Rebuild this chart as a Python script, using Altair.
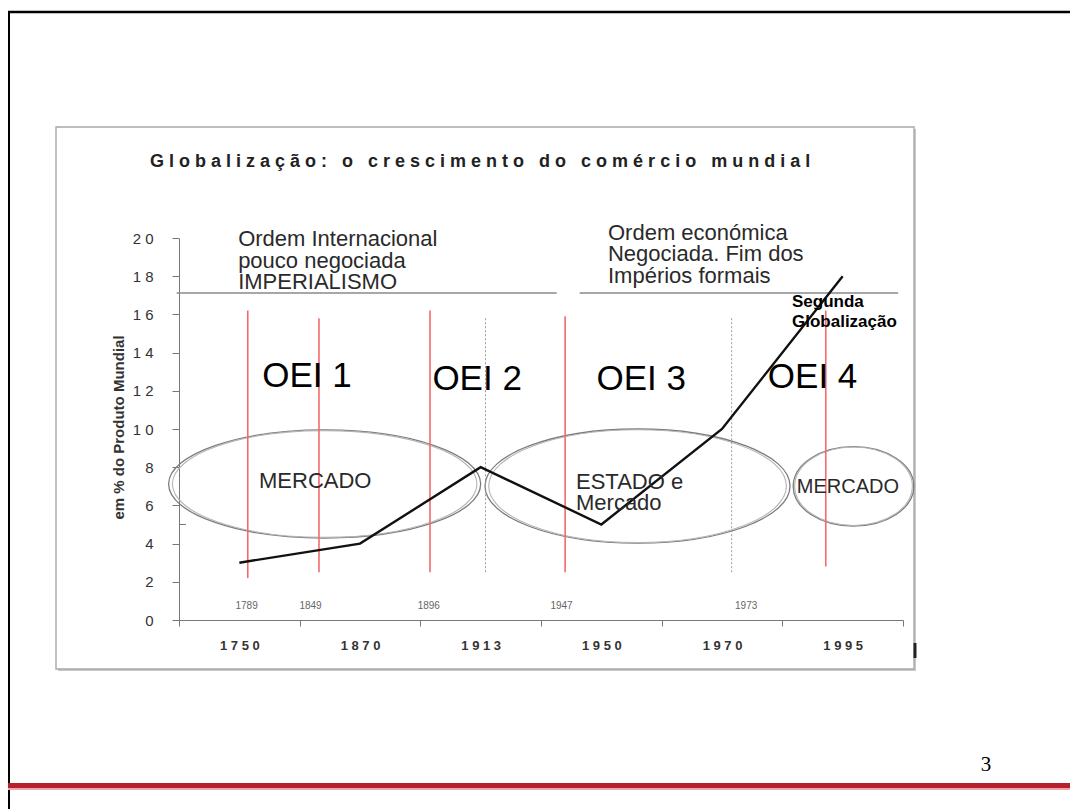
import altair as alt
import pandas as pd

# ---------------- layout constants ----------------
W, H = 724, 382            # plot area
OX, OY = 179, 238          # plot origin on the page (pixels)
PAGE_W, PAGE_H = 1070, 809
FONT = "Liberation Sans"

# ---------------- data ----------------
years = ["1750", "1870", "1913", "1950", "1970", "1995"]
trade_share = [3, 4, 8, 5, 10, 18]

# annotation positions on the axis-slot scale (0..6 = the six year slots)
red_pos = [0.57, 1.16, 2.08, 3.20, 5.36]
red_top = [16.2, 15.8, 16.2, 15.9, 16.2]
red_bottom = [2.2, 2.5, 2.5, 2.5, 2.8]
gray_pos = [2.54, 4.58]
gray_top = [15.9, 15.9]
gray_bottom = [2.5, 2.5]

small_years = ["1789", "1849", "1896", "1947", "1973"]
small_year_pos = [0.56, 1.09, 2.07, 3.17, 4.70]
small_year_val = [0.73, 0.73, 0.73, 0.73, 0.73]

oei_labels = ["OEI 1", "OEI 2", "OEI 3", "OEI 4"]
oei_pos = [0.69, 2.10, 3.46, 4.88]
oei_val = [12.8, 12.6, 12.6, 12.7]

order_texts = ["Ordem Internacional\npouco negociada\nIMPERIALISMO",
               "Ordem económica\nNegociada. Fim dos\nImpérios formais"]
order_pos = [0.49, 3.555]
order_val = [19.58, 19.9]

sep_start = [-0.02, 3.32]
sep_end = [3.13, 5.96]
sep_val = [17.12, 17.12]

regime_texts = ["MERCADO", "ESTADO e\nMercado"]
regime_pos = [0.663, 3.29]
regime_val = [6.91, 6.86]
regime2_texts = ["MERCADO"]
regime2_pos = [5.12]
regime2_val = [6.65]

seg_text = ["Segunda\nGlobalização"]
seg_pos = [5.08]
seg_val = [16.4]

ellipse_cx = [1.207, 3.80, 5.59]
ellipse_cy = [7.12, 7.01, 7.00]
ellipse_hx = [1.293, 1.264, 0.50]
ellipse_hy = [2.83, 2.99, 2.08]

title_words = ["Globalização:", "o", "crescimento", "do", "comércio", "mundial"]
y_title = "em % do Produto Mundial"
y_ticks = list(range(0, 21, 2))
page_number = ["3"]

# ---------------- scales ----------------
xq = alt.Scale(domain=[0, 6], nice=False, zero=False)
yq = alt.Scale(domain=[0, 20], nice=False)

dummy = pd.DataFrame({"d": [0]})


def px_rule(x1, y1, x2, y2, color, width):
    return alt.Chart(dummy).mark_rule(color=color, strokeWidth=width).encode(
        x=alt.value(x1 - OX), x2=alt.value(x2 - OX),
        y=alt.value(y1 - OY), y2=alt.value(y2 - OY))


layers = []

# ---------------- slide frame decorations ----------------
layers.append(px_rule(8, 12, PAGE_W, 12, "#000", 2.5))
layers.append(px_rule(9, 11, 9, PAGE_H, "#000", 2))
layers.append(alt.Chart(dummy).mark_rect(color="#b5202a").encode(
    x=alt.value(8 - OX), x2=alt.value(PAGE_W - OX),
    y=alt.value(783 - OY), y2=alt.value(788 - OY)))
layers.append(alt.Chart(dummy).mark_rect(color="#f3a3ab").encode(
    x=alt.value(8 - OX), x2=alt.value(PAGE_W - OX),
    y=alt.value(788 - OY), y2=alt.value(790 - OY)))
# inner picture box with a light shadow
layers.append(px_rule(915, 129, 915, 671, "#c8c8c8", 2))
layers.append(px_rule(58, 670, 916, 670, "#c8c8c8", 2))
layers.append(alt.Chart(dummy).mark_rect(fillOpacity=0, stroke="#a8a8a8", strokeWidth=1.4).encode(
    x=alt.value(56 - OX), x2=alt.value(914 - OX),
    y=alt.value(127 - OY), y2=alt.value(669 - OY)))
layers.append(px_rule(915, 643, 915, 658, "#222", 3))

# ---------------- ellipses ----------------
for cx, cy, hx, hy in zip(ellipse_cx, ellipse_cy, ellipse_hx, ellipse_hy):
    rx = hx * W / 6
    ry = hy * H / 20
    for shrink, col, sw in [(1.0, "#7c7c7c", 1.3), (0.976, "#b4b4b4", 1.1)]:
        rxk = rx * shrink
        ryk = ry * (1 - (1 - shrink) * 0.5)
        r = ryk / rxk
        path = f"M-1,0A1,{r:.4f},0,1,1,1,0A1,{r:.4f},0,1,1,-1,0Z"
        layers.append(
            alt.Chart(pd.DataFrame({"cx": [cx], "cy": [cy]}))
            .mark_point(shape=path, size=(2 * rxk) ** 2, filled=False,
                        color=col, strokeWidth=sw, opacity=1)
            .encode(x=alt.X("cx:Q", scale=xq, axis=None),
                    y=alt.Y("cy:Q", scale=yq, axis=None)))

# ---------------- separators ----------------
layers.append(
    alt.Chart(pd.DataFrame({"a": sep_start, "b": sep_end, "v": sep_val}))
    .mark_rule(color="#8a8a8a", strokeWidth=1.5)
    .encode(x=alt.X("a:Q", scale=xq, axis=None), x2="b:Q",
            y=alt.Y("v:Q", scale=yq, axis=None)))

# ---------------- period markers ----------------
layers.append(
    alt.Chart(pd.DataFrame({"p": gray_pos, "t": gray_top, "b": gray_bottom}))
    .mark_rule(color="#9a9a9a", strokeWidth=1, strokeDash=[2, 2])
    .encode(x=alt.X("p:Q", scale=xq, axis=None),
            y=alt.Y("b:Q", scale=yq, axis=None), y2="t:Q"))
layers.append(
    alt.Chart(pd.DataFrame({"p": red_pos, "t": red_top, "b": red_bottom}))
    .mark_rule(color="#f46a6a", strokeWidth=1.6)
    .encode(x=alt.X("p:Q", scale=xq, axis=None),
            y=alt.Y("b:Q", scale=yq, axis=None), y2="t:Q"))

# small extra tick at 5 on the y axis
layers.append(alt.Chart(dummy).mark_rule(color="#777", strokeWidth=1).encode(
    x=alt.value(0), x2=alt.value(7), y=alt.value(H - 5 * H / 20)))

# ---------------- main series ----------------
digit_space = "join(split(datum.label, ''), ' ')"
line = (
    alt.Chart(pd.DataFrame({"year": years, "share": trade_share}))
    .mark_line(color="#111", strokeWidth=2.4)
    .encode(
        x=alt.X("year:O", sort=years,
                scale=alt.Scale(type="band", paddingInner=0, paddingOuter=0),
                axis=alt.Axis(title=None, labelAngle=0, tickBand="extent",
                              labelExpr=digit_space, labelFont=FONT,
                              labelFontSize=13, labelFontWeight="bold",
                              labelColor="#333", labelPadding=13, tickSize=6,
                              tickColor="#777", domainColor="#777", grid=False)),
        y=alt.Y("share:Q", scale=yq,
                axis=alt.Axis(orient="left", values=y_ticks, title=y_title,
                              labelExpr=digit_space, labelFont=FONT,
                              labelFontSize=15, labelColor="#333",
                              labelPadding=19, tickSize=7, tickColor="#777",
                              domainColor="#777", grid=False,
                              titleFont=FONT, titleFontSize=15,
                              titleFontWeight="bold", titleColor="#333",
                              titleX=-61, titleY=189, titleAngle=270,
                              titleAlign="center", titleBaseline="middle")),
    )
)
layers.append(line)

# ---------------- texts ----------------
def text_layer(texts, pos, vals, size, weight="normal", color="#222",
               baseline="alphabetic", line_h=None, font=FONT):
    kw = dict(font=font, fontSize=size, fontWeight=weight, color=color,
              align="left", baseline=baseline, lineBreak="\n")
    if line_h is not None:
        kw["lineHeight"] = line_h
    return (alt.Chart(pd.DataFrame({"t": texts, "p": pos, "v": vals}))
            .mark_text(**kw)
            .encode(x=alt.X("p:Q", scale=xq, axis=None),
                    y=alt.Y("v:Q", scale=yq, axis=None), text="t:N"))


layers.append(text_layer(order_texts, order_pos, order_val, 22, color="#2a2a2a", line_h=21.5))
layers.append(text_layer(regime_texts, regime_pos, regime_val, 22, color="#2a2a2a", line_h=21))
layers.append(text_layer(regime2_texts, regime2_pos, regime2_val, 20, color="#2a2a2a"))
layers.append(text_layer(oei_labels, oei_pos, oei_val, 35, color="#000", baseline="middle"))
layers.append(text_layer(seg_text, seg_pos, seg_val, 17, weight="bold", color="#000", line_h=20))
layers.append(
    alt.Chart(pd.DataFrame({"t": small_years, "p": small_year_pos, "v": small_year_val}))
    .mark_text(font=FONT, fontSize=10, color="#666", align="center", baseline="middle")
    .encode(x=alt.X("p:Q", scale=xq, axis=None),
            y=alt.Y("v:Q", scale=yq, axis=None), text="t:N"))

# chart title (letter-spaced as in the picture)
title_text = "\u00a0\u00a0\u00a0".join(" ".join(w) for w in title_words)
layers.append(
    alt.Chart(pd.DataFrame({"t": [title_text]}))
    .mark_text(font=FONT, fontSize=18, fontWeight="bold", color="#222",
               align="left", baseline="alphabetic")
    .encode(x=alt.value(150 - OX), y=alt.value(167 - OY), text="t:N"))

# slide page number
layers.append(
    alt.Chart(pd.DataFrame({"t": page_number}))
    .mark_text(font="Liberation Serif", fontSize=21, color="#000",
               align="center", baseline="middle")
    .encode(x=alt.value(986 - OX), y=alt.value(765 - OY), text="t:N"))

chart = (
    alt.layer(*layers)
    .resolve_scale(x="independent")
    .resolve_axis(x="independent", y="independent")
    .properties(width=W, height=H, background="white",
                autosize=alt.AutoSizeParams(type="none"),
                padding={"left": OX, "top": OY,
                         "right": PAGE_W - OX - W, "bottom": PAGE_H - OY - H})
    .configure_view(strokeWidth=0)
)

chart.save("out.html", embed_options={"renderer": "svg", "actions": False})
